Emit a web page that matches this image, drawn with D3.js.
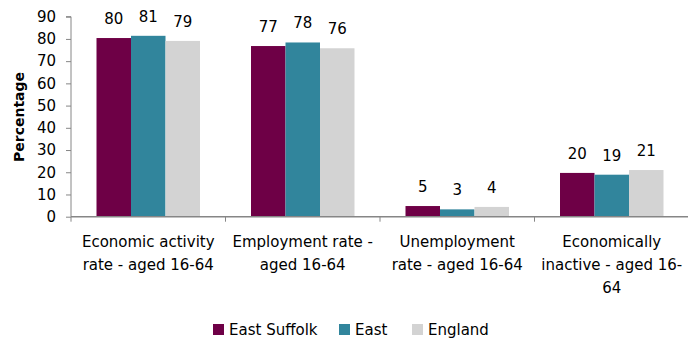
<!DOCTYPE html>
<html><head><meta charset="utf-8">
<script src="https://cdn.jsdelivr.net/npm/d3@7"></script>
<style>
body{margin:0;background:#fff;}
text{font-family:"DejaVu Sans",sans-serif;fill:#000;}
</style></head>
<body><svg id="c" width="688" height="344"></svg>
<script>
const categories = ["Economic activity rate - aged 16-64", "Employment rate - aged 16-64", "Unemployment rate - aged 16-64", "Economically inactive - aged 16-64"];
const categoryLines = [["Economic activity","rate - aged 16-64"],["Employment rate -","aged 16-64"],["Unemployment","rate - aged 16-64"],["Economically","inactive - aged 16-","64"]];
const seriesNames = ["East Suffolk", "East", "England"];
const eastSuffolk = [80.4, 76.8, 4.8, 19.7];
const east = [81.4, 78.4, 3.3, 18.9];
const england = [79.1, 75.8, 4.4, 21.0];
const colors = ["#6E0046", "#31859C", "#D3D3D3"];
const yTicks = [0,10,20,30,40,50,60,70,80,90];
const FS = "15px";
const FF = "DejaVu Sans";

const svg = d3.select("#c");
const m = {l:71, r:689, t:16.7, b:216.7};
const x0 = d3.scaleBand().domain(categories).range([m.l, m.r]).paddingInner(0).paddingOuter(0);
const groupW = 103.5;
const x1 = d3.scaleBand().domain(seriesNames).range([0, groupW]).padding(0);
const y = d3.scaleLinear().domain([0,90]).range([m.b, m.t]);
const seriesData = [eastSuffolk, east, england];

// y axis
const yAx = svg.append("g").attr("transform",`translate(${m.l},0)`)
  .call(d3.axisLeft(y).tickValues(yTicks).tickSize(5).tickPadding(10));
yAx.select(".domain").attr("stroke","#868686").attr("d",`M-5,${m.t}H0V${m.b}`);
yAx.selectAll(".tick line").attr("stroke","#868686");
yAx.selectAll(".tick text").style("font-size",FS).attr("font-family",FF).attr("fill","#000");

// bars
categories.forEach((c,i)=>{
  const gx = x0(c) + (x0.bandwidth()-groupW)/2;
  seriesNames.forEach((s,j)=>{
    const v = seriesData[j][i];
    svg.append("rect").attr("x", gx + x1(s)).attr("y", y(v))
      .attr("width", x1.bandwidth()).attr("height", y(0)-y(v)).attr("fill", colors[j]);
    svg.append("text").attr("x", gx + x1(s) + x1.bandwidth()/2).attr("y", y(v)-14)
      .attr("text-anchor","middle").style("font-size",FS).text(d3.format(".0f")(v));
  });
});

// x axis
const xAx = svg.append("g").attr("transform",`translate(0,${m.b})`)
  .call(d3.axisBottom(x0).tickSize(0).tickFormat(""));
xAx.select(".domain").attr("stroke","#868686").attr("stroke-width",1.5).attr("d",`M${m.l},0H${m.r}`);
const bounds = categories.map(c=>x0(c)).concat([m.r]);
xAx.selectAll(".bt").data(bounds).enter().append("line").attr("class","bt")
  .attr("x1",d=>d).attr("x2",d=>d).attr("y1",0).attr("y2",5).attr("stroke","#868686");

categories.forEach((c,i)=>{
  const t = svg.append("text").attr("text-anchor","middle").style("font-size",FS)
    .attr("x", x0(c)+x0.bandwidth()/2).attr("y", 247);
  categoryLines[i].forEach((ln,k)=>{
    t.append("tspan").attr("x", x0(c)+x0.bandwidth()/2).attr("dy", k===0?0:23).text(ln);
  });
});

// y label
svg.append("text").attr("transform","translate(24,117) rotate(-90)").attr("text-anchor","middle")
  .style("font-size","14px").style("font-weight","bold").text("Percentage");

// legend
const legX = [213, 339, 412];
seriesNames.forEach((s,j)=>{
  svg.append("rect").attr("x",legX[j]).attr("y",324).attr("width",11).attr("height",11).attr("fill",colors[j]);
  svg.append("text").attr("x",legX[j]+16).attr("y",335).style("font-size",FS).text(s);
});
</script></body></html>
